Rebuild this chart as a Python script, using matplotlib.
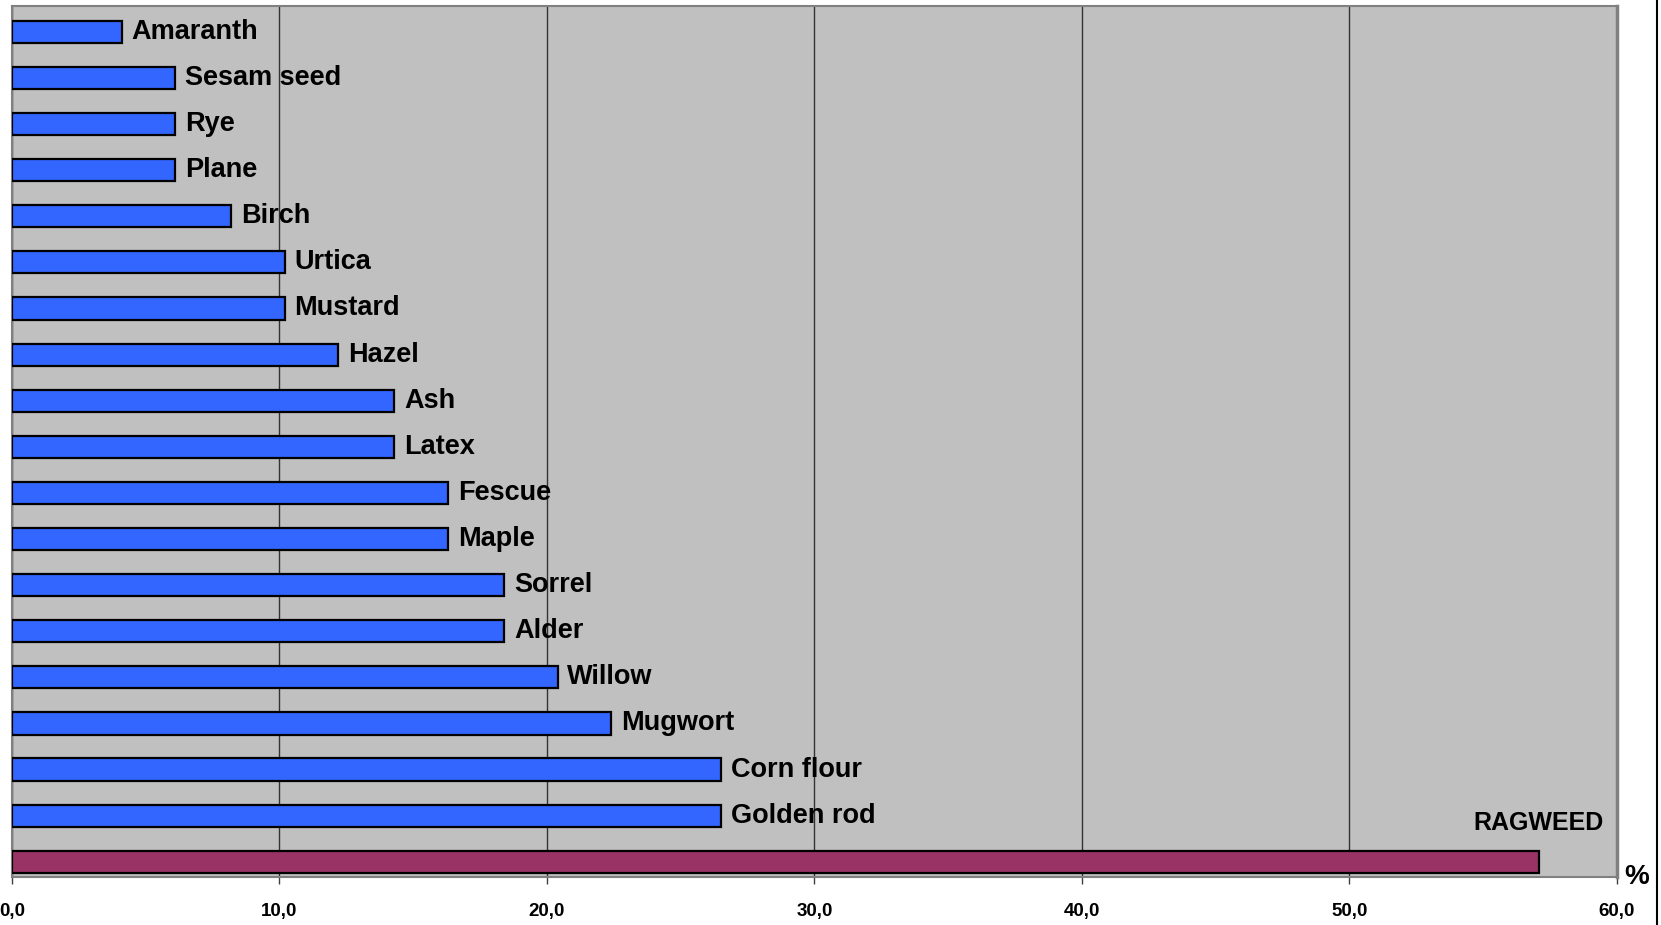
import matplotlib
matplotlib.use("Agg")
import matplotlib.pyplot as plt
from matplotlib.lines import Line2D

plt.rcParams['font.family'] = ['Liberation Sans', 'DejaVu Sans']

categories = ["Amaranth", "Sesam seed", "Rye", "Plane", "Birch", "Urtica", "Mustard",
              "Hazel", "Ash", "Latex", "Fescue", "Maple", "Sorrel", "Alder", "Willow",
              "Mugwort", "Corn flour", "Golden rod", "RAGWEED"]
values = [4.1, 6.1, 6.1, 6.1, 8.2, 10.2, 10.2, 12.2, 14.3, 14.3, 16.3, 16.3,
          18.4, 18.4, 20.4, 22.4, 26.5, 26.5, 57.1]
xticks = [0, 10, 20, 30, 40, 50, 60]
xtick_labels = ["0,0", "10,0", "20,0", "30,0", "40,0", "50,0", "60,0"]

blue = "#3366FF"
purple = "#993366"
colors = [blue] * (len(categories) - 1) + [purple]

fig = plt.figure(figsize=(16.61, 9.25), dpi=100)
ax = fig.add_axes([0.0072, 0.0519, 0.9663, 0.9416])
ax.set_facecolor("#C0C0C0")

pos = list(range(len(categories)))
ax.barh(pos, values, height=0.48, color=colors, edgecolor="black", linewidth=1.6, zorder=3)

for i, (c, v) in enumerate(zip(categories, values)):
    if c == "RAGWEED":
        ax.text(59.5, i - 0.85, c, ha="right", va="center", fontsize=18,
                fontweight="bold", color="black", zorder=4)
    else:
        ax.annotate(c, xy=(v, i), xytext=(7, 0), textcoords="offset points",
                    ha="left", va="center", fontsize=19.5, fontweight="bold",
                    color="black", zorder=4)

ax.set_xlim(0, 60)
ax.set_ylim(len(categories) - 1 + 0.33, -0.56)
ax.set_yticks([])
ax.set_xticks(xticks)
ax.set_xticklabels(xtick_labels, fontsize=13.5, fontweight="bold")
ax.tick_params(axis="x", direction="out", length=5, width=1, color="#404040", pad=14)
ax.grid(axis="x", color="#333333", linewidth=1, zorder=1)

for s in ["top", "left", "bottom"]:
    ax.spines[s].set_color("#808080")
    ax.spines[s].set_linewidth(1.5)
ax.spines["right"].set_color("#808080")
ax.spines["right"].set_linewidth(2.5)

fig.text(0.9855, 0.052, "%", ha="center", va="center", fontsize=20, fontweight="bold")
fig.add_artist(Line2D([0.9976, 0.9976], [0, 1], transform=fig.transFigure,
                      color="black", linewidth=1.5))

fig.savefig("out.png", dpi=100, facecolor="white")
